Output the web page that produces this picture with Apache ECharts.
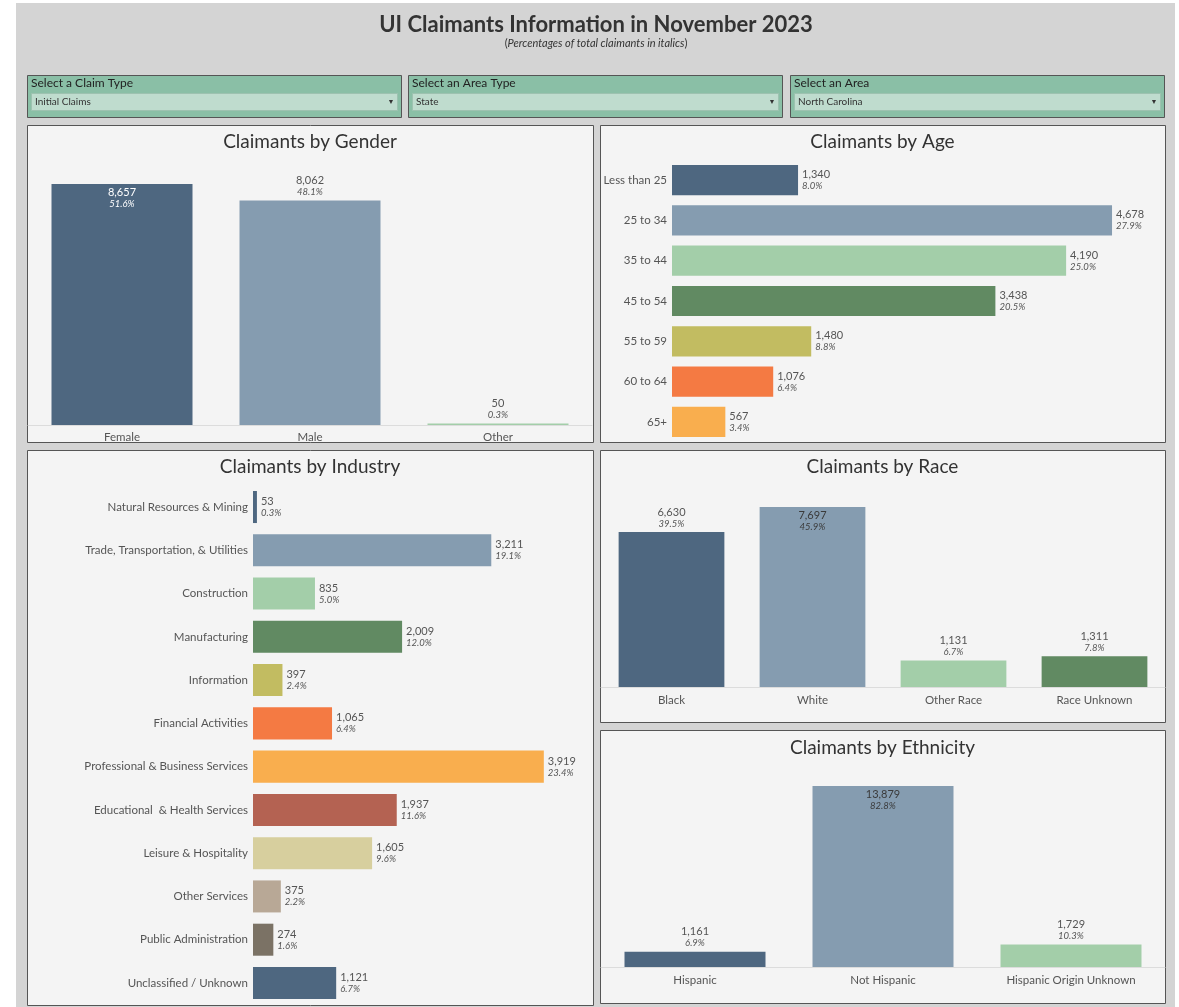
<!DOCTYPE html>
<html>
<head>
<meta charset="utf-8">
<title>UI Claimants Information in November 2023</title>
<script src="https://cdn.jsdelivr.net/npm/echarts@6/dist/echarts.min.js"></script>
<style>
    html, body { margin: 0; padding: 0; background: #fff; }
    #main { width: 1179px; height: 1007px; }
</style>
</head>
<body>
<div id="main"></div>
<script>
// data
var genderCats = ['Female', 'Male', 'Other'];
var genderVals = [8657, 8062, 50];
var genderPct = ['51.6%', '48.1%', '0.3%'];

var ageCats = ['Less than 25', '25 to 34', '35 to 44', '45 to 54', '55 to 59', '60 to 64', '65+'];
var ageVals = [1340, 4678, 4190, 3438, 1480, 1076, 567];
var agePct = ['8.0%', '27.9%', '25.0%', '20.5%', '8.8%', '6.4%', '3.4%'];

var industryCats = ['Natural Resources & Mining', 'Trade, Transportation, & Utilities', 'Construction',
    'Manufacturing', 'Information', 'Financial Activities', 'Professional & Business Services',
    'Educational  & Health Services', 'Leisure & Hospitality', 'Other Services',
    'Public Administration', 'Unclassified / Unknown'];
var industryVals = [53, 3211, 835, 2009, 397, 1065, 3919, 1937, 1605, 375, 274, 1121];
var industryPct = ['0.3%', '19.1%', '5.0%', '12.0%', '2.4%', '6.4%', '23.4%', '11.6%', '9.6%', '2.2%', '1.6%', '6.7%'];

var raceCats = ['Black', 'White', 'Other Race', 'Race Unknown'];
var raceVals = [6630, 7697, 1131, 1311];
var racePct = ['39.5%', '45.9%', '6.7%', '7.8%'];

var ethCats = ['Hispanic', 'Not Hispanic', 'Hispanic Origin Unknown'];
var ethVals = [1161, 13879, 1729];
var ethPct = ['6.9%', '82.8%', '10.3%'];

var filterLabels = ['Select a Claim Type', 'Select an Area Type', 'Select an Area'];
var filterValues = ['Initial Claims', 'State', 'North Carolina'];

var barColors = ['#4e6780', '#859cb0', '#a3cea9', '#618a62', '#c2bc61', '#f47a43',
    '#f9ae4e', '#b46252', '#d7cf9e', '#b8a896', '#7b7265', '#4e6780'];

var FONT = 'Lato, "Open Sans", sans-serif';

function fmt(v) {
    return v.toLocaleString('en-US');
}

function richFor(color) {
    return {
        v: { fontSize: 11, color: color, fontFamily: FONT, lineHeight: 12, align: 'center' },
        p: { fontSize: 9.5, color: color, fontFamily: FONT, fontStyle: 'italic', lineHeight: 11, align: 'center' }
    };
}

// vertical bars: label goes inside when the bar nearly fills the grid
function columnItems(vals, pcts, max, insideColor) {
    return vals.map(function (v, i) {
        var inside = v > max * 0.9;
        return {
            value: v,
            itemStyle: { color: barColors[i] },
            label: {
                show: true,
                position: inside ? 'insideTop' : 'top',
                distance: inside ? 2 : 3,
                formatter: '{v|' + fmt(v) + '}\n{p|' + pcts[i] + '}',
                rich: richFor(inside ? insideColor : '#555')
            }
        };
    });
}

function rowItems(vals, pcts) {
    return vals.map(function (v, i) {
        return {
            value: v,
            itemStyle: { color: barColors[i] },
            label: {
                show: true,
                position: 'right',
                distance: 4,
                formatter: '{v|' + fmt(v) + '}\n{p|' + pcts[i] + '}',
                rich: {
                    v: { fontSize: 11, color: '#555', fontFamily: FONT, lineHeight: 12 },
                    p: { fontSize: 9.5, color: '#555', fontFamily: FONT, fontStyle: 'italic', lineHeight: 11 }
                }
            }
        };
    });
}

var catLabel = { color: '#555', fontSize: 11.5, fontFamily: FONT, interval: 0 };

function colXAxis(grid, cats, margin) {
    return {
        gridIndex: grid, type: 'category', data: cats, z: 3,
        axisLine: { lineStyle: { color: '#dcdcdc', width: 1 } },
        axisTick: { show: false },
        axisLabel: Object.assign({ margin: margin }, catLabel)
    };
}

function rowYAxis(grid, cats) {
    return {
        gridIndex: grid, type: 'category', data: cats, inverse: true,
        axisLine: { show: false }, axisTick: { show: false },
        axisLabel: Object.assign({ margin: 5 }, catLabel)
    };
}

function valAxis(grid, max) {
    return { gridIndex: grid, type: 'value', min: 0, max: max, show: false, splitLine: { show: false } };
}

// dashboard frame: background, panels, filters, titles
var graphics = [];
graphics.push({ type: 'rect', silent: true, z: -2, shape: { x: 16, y: 3, width: 1159, height: 1004 }, style: { fill: '#d4d4d4' } });

var panels = [
    { x: 27, y: 125, w: 566, h: 317, title: 'Claimants by Gender', ty: 142 },
    { x: 600, y: 125, w: 565, h: 317, title: 'Claimants by Age', ty: 142 },
    { x: 27, y: 450, w: 566, h: 555, title: 'Claimants by Industry', ty: 467 },
    { x: 600, y: 450, w: 565, h: 272, title: 'Claimants by Race', ty: 467 },
    { x: 600, y: 730, w: 565, h: 273, title: 'Claimants by Ethnicity', ty: 748 }
];
panels.forEach(function (p) {
    graphics.push({ type: 'rect', silent: true, z: -1,
        shape: { x: p.x + 0.5, y: p.y + 0.5, width: p.w, height: p.h },
        style: { fill: '#f4f4f4', stroke: '#555', lineWidth: 1 } });
    graphics.push({ type: 'text', silent: true, z: 10, x: p.x + p.w / 2, y: p.ty,
        style: { text: p.title, font: '19px ' + FONT, fill: '#333', textAlign: 'center', textVerticalAlign: 'middle' } });
});

var filterX = [27, 408, 790];
filterLabels.forEach(function (lab, i) {
    var x = filterX[i];
    graphics.push({ type: 'rect', silent: true, z: -1,
        shape: { x: x + 0.5, y: 75.5, width: 374, height: 42 },
        style: { fill: '#8abfa6', stroke: '#555', lineWidth: 1 } });
    graphics.push({ type: 'text', silent: true, z: 10, x: x + 4, y: 83,
        style: { text: lab, font: '12px ' + FONT, fill: '#222', textVerticalAlign: 'middle' } });
    graphics.push({ type: 'rect', silent: true, z: 0,
        shape: { x: x + 4.5, y: 93.5, width: 366, height: 17 },
        style: { fill: '#bfdcce', stroke: '#9dc2b0', lineWidth: 1 } });
    graphics.push({ type: 'text', silent: true, z: 10, x: x + 8, y: 102,
        style: { text: filterValues[i], font: '10px ' + FONT, fill: '#333', textVerticalAlign: 'middle' } });
    graphics.push({ type: 'text', silent: true, z: 10, x: x + 364, y: 102,
        style: { text: '\u25BC', font: '7px ' + FONT, fill: '#333', textAlign: 'center', textVerticalAlign: 'middle' } });
});

graphics.push({ type: 'text', silent: true, z: 10, x: 596, y: 25,
    style: { text: 'UI Claimants Information in November 2023', font: 'bold 22px ' + FONT, fill: '#333',
        textAlign: 'center', textVerticalAlign: 'middle' } });
graphics.push({ type: 'text', silent: true, z: 10, x: 596, y: 43,
    style: { text: '{a|(}{b|Percentages of total claimants in italics}{a|)}', textAlign: 'center', textVerticalAlign: 'middle',
        rich: {
            a: { fontSize: 11, fontFamily: FONT, fill: '#333' },
            b: { fontSize: 11, fontFamily: FONT, fontStyle: 'italic', fill: '#333' }
        } } });

var genderMax = 9160, ageMax = 5188, industryMax = 4447, raceMax = 8426, ethMax = 15107;

var myChart = echarts.init(document.getElementById('main'));

var option = {
    backgroundColor: '#ffffff',
    animation: false,
    textStyle: { fontFamily: FONT },
    graphic: { elements: graphics },
    grid: [
        { left: 28, top: 170, width: 564, height: 255, outerBoundsMode: 'none' },     // gender
        { left: 672, top: 160, width: 488, height: 282, outerBoundsMode: 'none' },    // age
        { left: 253, top: 485.4, width: 330, height: 519.2, outerBoundsMode: 'none' }, // industry
        { left: 601, top: 490, width: 564, height: 197, outerBoundsMode: 'none' },    // race
        { left: 601, top: 770, width: 564, height: 197, outerBoundsMode: 'none' }     // ethnicity
    ],
    xAxis: [
        colXAxis(0, genderCats, 6),
        valAxis(1, ageMax),
        valAxis(2, industryMax),
        colXAxis(3, raceCats, 7),
        colXAxis(4, ethCats, 7)
    ],
    yAxis: [
        valAxis(0, genderMax),
        rowYAxis(1, ageCats),
        rowYAxis(2, industryCats),
        valAxis(3, raceMax),
        valAxis(4, ethMax)
    ],
    series: [
        { type: 'bar', xAxisIndex: 0, yAxisIndex: 0, barWidth: '75%', silent: true,
            data: columnItems(genderVals, genderPct, genderMax, '#ffffff') },
        { type: 'bar', xAxisIndex: 1, yAxisIndex: 1, barWidth: '75%', silent: true,
            data: rowItems(ageVals, agePct) },
        { type: 'bar', xAxisIndex: 2, yAxisIndex: 2, barWidth: '74%', silent: true,
            data: rowItems(industryVals, industryPct) },
        { type: 'bar', xAxisIndex: 3, yAxisIndex: 3, barWidth: '75%', silent: true,
            data: columnItems(raceVals, racePct, raceMax, '#3a3a3a') },
        { type: 'bar', xAxisIndex: 4, yAxisIndex: 4, barWidth: '75%', silent: true,
            data: columnItems(ethVals, ethPct, ethMax, '#3a3a3a') }
    ]
};

myChart.setOption(option);
</script>
</body>
</html>
